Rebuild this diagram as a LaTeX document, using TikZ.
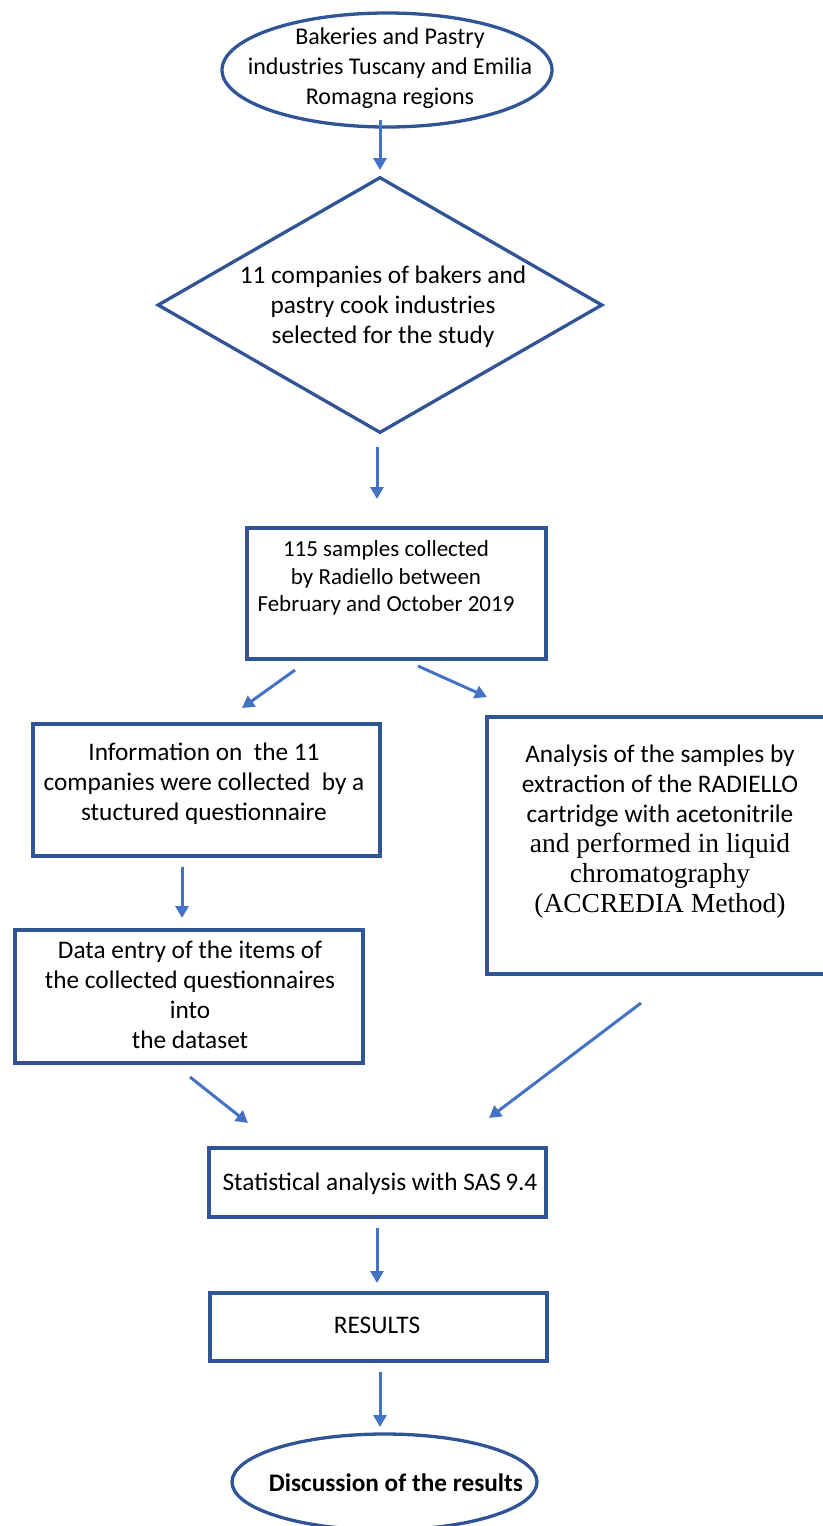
\documentclass[tikz,border=0pt]{standalone}
\usepackage{fontspec}
\setmainfont{Carlito}
\newfontfamily\serifpart{Liberation Serif}
\usetikzlibrary{shapes.geometric,arrows.meta}
\definecolor{boxblue}{HTML}{2F5597}
\definecolor{arrowblue}{HTML}{4472C4}
\tikzset{
  frame/.style={draw=boxblue, line width=3.3pt, inner sep=0pt},
  rectbox/.style={frame, rectangle},
  ovalbox/.style={frame, ellipse},
  diamondbox/.style={frame, diamond},
  txt/.style={align=center, inner sep=0pt, font=\fontsize{25.3}{30}\selectfont},
  flow/.style={draw=arrowblue, line width=3pt, -{Triangle[length=12pt,width=13pt]}},
}
\begin{document}
\begin{tikzpicture}[x=1pt,y=-1pt]
\useasboundingbox (0,0) rectangle (822,1526);
% shapes
\node[ovalbox, minimum width=330pt, minimum height=114pt] (start) at (387,70) {};
\node[diamondbox, minimum width=445pt, minimum height=256pt] (sel) at (380,305) {};
\node[rectbox, minimum width=299pt, minimum height=131pt] (samp) at (396.5,593.5) {};
\node[rectbox, minimum width=347pt, minimum height=132pt] (info) at (206.5,790) {};
\node[rectbox, minimum width=348pt, minimum height=257pt] (anal) at (661,845.5) {};
\node[rectbox, minimum width=348pt, minimum height=133pt] (data) at (189,996.5) {};
\node[rectbox, minimum width=337pt, minimum height=69pt] (stat) at (377.5,1182.5) {};
\node[rectbox, minimum width=337pt, minimum height=68pt] (res) at (378.5,1327) {};
\node[ovalbox, minimum width=305pt, minimum height=96pt] (disc) at (384.5,1482) {};
% texts
\node[txt, font=\fontsize{24}{30}\selectfont] (tstart) at (390,68) {Bakeries and Pastry\\industries Tuscany and Emilia\\Romagna regions};
\node[txt] (tsel) at (383,307) {11 companies of bakers and\\pastry cook industries\\selected for the study};
\node[txt, font=\fontsize{23}{27.5}\selectfont] (tsamp) at (386,578) {115 samples collected\\by Radiello between\\February and October 2019};
\node[txt] (tinfo) at (204,784) {Information on\ \ the 11\\companies were collected\ \ by a\\stuctured questionnaire};
\node[txt] (tanal) at (660,832) {Analysis of the samples by\\extraction of the RADIELLO\\cartridge with acetonitrile\\{\serifpart\fontsize{27.5}{30}\selectfont and performed in liquid}\\{\serifpart\fontsize{27.5}{30}\selectfont chromatography}\\{\serifpart\fontsize{27.5}{30}\selectfont (ACCREDIA Method)}};
\node[txt] (tdata) at (190,995) {Data entry of the items of\\the collected questionnaires\\into\\the dataset};
\node[txt, font=\fontsize{25.3}{30}\selectfont] (tstat) at (380,1184) {Statistical analysis with SAS\,9.4};
\node[txt, font=\fontsize{25.3}{30}\selectfont] (tres) at (377,1325) {RESULTS};
\node[txt, font=\fontsize{25.3}{30}\selectfont\bfseries] (tdisc) at (396,1483) {Discussion of the results};
% connector end points
\coordinate (a1s) at (380,120); \coordinate (a1e) at (380,170);
\coordinate (a2s) at (377,447); \coordinate (a2e) at (377,499);
\coordinate (a3s) at (295,670); \coordinate (a3e) at (242,708);
\coordinate (a4s) at (418,666); \coordinate (a4e) at (487,697);
\coordinate (a5s) at (182,867); \coordinate (a5e) at (182,918);
\coordinate (a6s) at (190,1077); \coordinate (a6e) at (248,1123);
\coordinate (a7s) at (641,1003); \coordinate (a7e) at (489,1118);
\coordinate (a8s) at (377,1228); \coordinate (a8e) at (377,1283);
\coordinate (a9s) at (380,1372); \coordinate (a9e) at (380,1427);
\draw[flow] (a1s) -- (a1e);
\draw[flow] (a2s) -- (a2e);
\draw[flow] (a3s) -- (a3e);
\draw[flow] (a4s) -- (a4e);
\draw[flow] (a5s) -- (a5e);
\draw[flow] (a6s) -- (a6e);
\draw[flow] (a7s) -- (a7e);
\draw[flow] (a8s) -- (a8e);
\draw[flow] (a9s) -- (a9e);
\end{tikzpicture}
\end{document}
